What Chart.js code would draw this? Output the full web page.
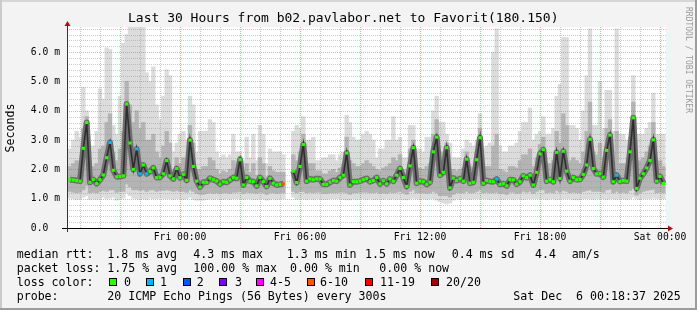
<!DOCTYPE html>
<html><head><meta charset="utf-8">
<script src="https://cdn.jsdelivr.net/npm/chart.js@4"></script>
<style>
html,body{margin:0;padding:0;background:#f3f3f3;}
#wrap{position:relative;width:697px;height:310px;background:#f3f3f3;overflow:hidden;font-family:"DejaVu Sans Mono",monospace;color:#000;}
#wrap canvas{position:absolute;left:0;top:0;}
.t{position:absolute;white-space:pre;font-size:11.6px;line-height:14px;}
.sq{position:absolute;width:6px;height:6px;border:1px solid #000;}
.edge{position:absolute;}
</style></head>
<body>
<div id="wrap">
  <canvas id="c" width="697" height="310"></canvas>
  <div class="edge" style="left:0;top:0;width:697px;height:2px;background:#d6d6d6"></div>
  <div class="edge" style="left:0;top:0;width:2px;height:310px;background:#cbcbcb"></div>
  <div class="edge" style="right:0;top:0;width:2px;height:310px;background:#9c9c9c"></div>
  <div class="edge" style="left:0;bottom:0;width:697px;height:2px;background:#9c9c9c"></div>
  <div class="t" style="left:128px;top:10px;font-size:13px;line-height:16px;">Last 30 Hours from b02.pavlabor.net to Favorit(180.150)</div>
  <div class="t" style="left:10px;top:128px;transform:translate(-50%,-50%) rotate(-90deg);">Seconds</div>
  <div class="t" style="left:688px;top:60px;transform:translate(-50%,-50%) rotate(90deg);font-size:8px;line-height:9px;color:#9a9a9a;">RRDTOOL / TOBI OETIKER</div>
  <div id="legend"></div>
</div>
<script>
// time axis: hours relative to Fri 00:00, one sample every 10 minutes
const startHour = -5.5;
const stepHour = 1/6;
const viewMin = -5.65, viewMax = 24.3;
const yMax = 6.86;

// median round-trip time (ms)
const median = [
1.65,1.64,1.62,1.60,2.72,3.60,1.56,1.65,1.52,1.65,
1.81,2.40,2.92,1.97,1.75,1.76,1.78,4.23,2.90,2.00,
2.70,1.85,2.15,1.85,1.93,2.05,1.72,1.73,1.85,2.30,
1.78,1.68,2.03,1.72,1.83,1.63,3.00,2.10,1.60,1.40,
1.56,1.56,1.70,1.65,1.60,1.50,1.58,1.56,1.64,1.72,
1.70,2.33,1.47,1.72,1.60,1.58,1.44,1.72,1.58,1.42,
1.69,1.53,1.47,1.49,1.51,null,null,1.94,1.55,2.10,
2.85,1.60,1.67,1.65,1.68,1.67,1.49,1.49,1.56,1.62,
1.60,1.72,1.80,2.56,1.47,1.58,1.58,1.60,1.65,1.69,
1.58,1.62,1.72,1.51,1.61,1.51,1.67,1.60,1.80,2.03,
1.72,1.42,2.12,2.74,1.53,1.60,1.58,1.49,1.56,2.60,
3.10,1.80,1.90,2.74,1.37,1.70,1.62,1.68,1.60,2.35,
1.53,1.56,2.33,3.08,1.53,1.62,1.59,1.58,1.67,1.49,
1.51,1.44,1.65,1.64,1.50,1.58,1.78,1.72,1.80,1.47,
1.90,2.53,2.67,1.60,1.65,1.58,2.58,1.69,2.62,1.94,
1.60,1.72,1.65,1.66,1.83,2.15,3.03,2.03,1.85,1.85,
1.74,2.65,3.17,1.58,1.80,1.59,1.62,1.60,2.60,3.76,
1.35,1.70,1.85,2.05,2.30,3.01,1.60,1.76,1.52];

// lost pings out of 20 per sample
const loss = [
0,0,0,0,0,0,0,0,0,0,
0,0,1,0,0,0,0,0,0,0,
1,1,0,1,0,0,0,0,0,0,
0,0,0,0,0,0,0,0,0,0,
0,0,0,0,0,0,0,0,0,0,
0,0,0,0,0,0,0,0,0,0,
0,0,0,0,8,null,null,0,0,0,
0,0,0,0,0,0,0,0,0,0,
0,0,0,0,0,0,0,0,0,0,
0,0,0,0,0,0,0,0,0,0,
0,0,0,0,0,0,0,0,0,0,
0,0,0,0,0,0,0,0,0,0,
0,0,0,0,0,0,0,0,1,0,
0,0,0,0,0,0,0,0,0,0,
0,0,0,0,0,0,0,0,0,0,
0,0,0,0,0,0,0,0,0,0,
0,0,0,0,1,0,0,0,0,0,
0,0,0,0,0,0,0,0,0];

// smoke: fastest ping, lower / upper edge of the dense part, slowest ping (ms)
const smokeMin = [
1.02,1.00,0.98,1.00,1.05,1.10,0.98,1.00,0.98,1.00,
1.05,1.00,1.02,1.05,0.95,1.00,1.02,1.20,1.10,1.02,
1.00,0.98,1.00,0.98,1.02,1.00,1.00,1.02,1.00,1.00,
1.00,0.98,1.00,1.00,0.98,1.00,1.05,0.98,0.95,0.95,
0.95,0.98,1.00,0.98,1.00,0.98,0.98,1.00,0.98,1.00,
1.00,1.00,0.98,1.00,1.00,0.98,0.98,1.00,1.00,0.95,
0.98,1.00,0.98,1.00,1.00,null,null,1.05,0.98,1.00,
1.00,0.98,1.00,0.98,1.00,1.00,0.98,0.98,1.00,1.00,
1.00,1.00,0.98,0.96,0.96,1.00,0.98,1.00,1.00,0.98,
1.00,0.98,0.98,1.00,0.98,1.00,0.98,1.00,0.98,1.00,
0.98,0.96,1.00,1.02,1.00,0.98,1.00,0.98,1.00,1.00,
0.95,0.90,0.85,0.82,0.85,0.95,1.00,0.98,1.00,1.00,
0.98,1.00,1.00,1.00,1.00,1.00,0.98,1.00,0.98,1.00,
0.98,1.00,1.00,0.98,1.00,1.00,0.98,1.00,1.00,1.00,
1.00,1.00,1.00,0.98,1.00,1.00,0.98,1.00,1.00,1.00,
1.00,0.98,0.96,0.98,1.00,1.00,1.00,0.98,1.00,1.00,
1.00,0.98,1.00,1.00,0.98,1.00,1.00,0.98,1.00,1.05,
1.00,0.98,1.00,1.00,1.00,1.02,1.00,1.00,1.00];

const smokeLow = [
1.25,1.22,1.20,1.22,1.30,1.45,1.20,1.22,1.20,1.25,
1.28,1.25,1.30,1.30,1.22,1.25,1.25,1.50,1.40,1.30,
1.30,1.28,1.30,1.25,1.30,1.30,1.25,1.28,1.28,1.30,
1.28,1.25,1.28,1.25,1.25,1.22,1.30,1.25,1.18,1.15,
1.15,1.18,1.20,1.18,1.20,1.18,1.20,1.20,1.18,1.22,
1.22,1.25,1.18,1.22,1.20,1.20,1.18,1.22,1.20,1.15,
1.20,1.20,1.18,1.20,1.20,null,null,1.25,1.20,1.25,
1.25,1.20,1.22,1.20,1.22,1.22,1.18,1.18,1.20,1.20,
1.20,1.22,1.22,1.20,1.15,1.20,1.20,1.22,1.22,1.22,
1.20,1.20,1.22,1.18,1.20,1.18,1.22,1.20,1.22,1.25,
1.20,1.15,1.25,1.30,1.20,1.20,1.20,1.18,1.20,1.25,
1.20,1.10,1.10,1.10,1.05,1.15,1.20,1.20,1.20,1.25,
1.20,1.20,1.25,1.30,1.20,1.22,1.20,1.20,1.22,1.18,
1.18,1.15,1.22,1.22,1.18,1.20,1.25,1.22,1.25,1.18,
1.25,1.30,1.30,1.20,1.22,1.20,1.28,1.22,1.28,1.25,
1.20,1.22,1.20,1.20,1.25,1.28,1.30,1.25,1.25,1.25,
1.22,1.30,1.32,1.20,1.25,1.20,1.22,1.20,1.28,1.35,
1.12,1.20,1.25,1.28,1.30,1.32,1.20,1.22,1.20];

const smokeHigh = [
2.1,2.2,2.3,2.2,3.4,3.8,2.0,2.1,2.2,2.7,
2.8,3.6,3.9,2.6,2.3,2.7,3.3,5.0,4.2,3.6,
4.0,3.4,3.6,3.0,3.0,3.2,2.6,2.4,2.8,3.3,
2.9,2.0,2.4,2.2,2.4,2.1,3.5,2.9,2.0,2.0,
2.1,2.1,2.4,2.3,2.0,1.85,1.95,1.9,2.0,2.3,
2.05,2.45,1.8,2.2,1.9,2.2,1.8,2.4,2.2,1.75,
2.1,1.95,1.9,1.9,1.9,null,null,2.5,2.3,2.6,
3.2,2.1,2.2,2.2,1.95,1.95,1.85,1.85,1.95,2.0,
1.9,2.05,2.15,3.1,2.3,2.2,2.1,2.1,2.2,2.3,
2.2,2.1,2.0,1.95,2.05,2.1,2.2,2.4,2.3,2.5,
2.0,1.8,2.7,3.0,2.0,2.05,2.0,2.1,2.2,3.2,
3.7,2.5,2.6,2.9,2.0,2.0,1.95,2.0,2.05,2.6,
2.1,2.05,2.6,3.4,2.0,2.1,2.1,2.8,3.2,2.0,
1.95,1.9,2.1,2.1,2.05,2.3,2.5,2.5,2.7,2.1,
2.4,2.85,3.1,2.2,2.2,2.3,3.3,2.9,3.9,3.5,
2.3,2.4,2.3,2.2,2.6,3.3,4.3,2.6,2.5,2.9,
2.4,3.4,3.7,2.2,3.3,2.2,2.2,2.1,2.8,4.3,
2.0,2.3,2.4,2.6,2.8,3.6,2.2,2.3,2.1];

const smokeMax = [
2.7,3.0,3.3,3.1,4.8,4.0,2.6,2.8,3.3,4.75,
4.4,6.15,6.1,3.5,3.2,4.5,6.3,6.6,6.85,6.85,
6.85,6.85,6.85,5.3,5.0,5.5,4.2,3.7,4.5,5.4,
5.2,2.6,2.9,3.2,3.3,3.0,4.5,4.2,2.6,3.3,
3.3,3.3,3.7,3.6,2.6,2.4,2.5,2.4,2.5,3.2,
2.6,2.6,2.3,3.1,2.4,3.2,2.3,3.5,3.2,2.2,
2.7,2.6,2.6,2.6,2.5,null,null,3.3,3.5,3.4,
3.8,3.0,3.0,3.1,2.3,2.3,2.4,2.4,2.5,2.5,
2.3,2.5,2.6,3.85,3.6,3.1,3.0,3.0,3.2,3.3,
3.2,3.0,2.4,2.7,2.7,3.0,3.0,3.8,3.0,3.1,
2.4,2.4,3.5,3.5,2.7,2.7,2.6,3.1,3.1,4.0,
4.5,3.6,3.6,3.2,2.9,2.4,2.4,2.4,2.7,3.0,
2.9,2.8,3.0,3.9,2.7,2.8,2.9,6.0,6.8,2.8,
2.6,2.6,2.8,2.8,2.9,3.3,3.6,3.6,4.1,3.0,
3.2,3.3,3.8,3.2,3.2,3.4,4.5,4.9,6.5,6.5,
3.5,3.5,3.4,3.0,4.0,5.2,6.8,3.5,3.5,5.0,
3.4,4.7,4.7,3.3,6.8,3.2,3.2,3.0,3.1,5.2,
3.2,3.2,3.2,3.4,3.6,4.6,3.2,3.2,3.2];

const tickHours = [0, 6, 12, 18, 24];
const tickLabels = ['Fri 00:00', 'Fri 06:00', 'Fri 12:00', 'Fri 18:00', 'Sat 00:00'];
const yLabelValues = [0, 1, 2, 3, 4, 5, 6];
const yLabels = ['0.0  ', '1.0 m', '2.0 m', '3.0 m', '4.0 m', '5.0 m', '6.0 m'];

const lossBins = ['0', '1', '2', '3', '4-5', '6-10', '11-19', '20/20'];
const lossBinMax = [0, 1, 2, 3, 5, 10, 19, 20];
const lossColors = ['#26ff00', '#00b8ff', '#0059ff', '#7e00ff', '#ff00ff', '#ff5500', '#ff0000', '#a10000'];

function lossColor(n) {
  for (let k = 0; k < lossBinMax.length; k++) if (n <= lossBinMax[k]) return lossColors[k];
  return lossColors[lossColors.length - 1];
}
const xs = median.map((_, i) => startHour + i * stepHour);
const pts = arr => arr.map((v, i) => ({x: xs[i], y: v}));
const band = (lo, hi) => lo.map((v, i) => ({x: xs[i], y: (v === null || hi[i] === null) ? null : [v, hi[i]]}));

// legend (html text)
const legendRows = [
  {y: 254, items: [['median rtt:', 16.7], ['1.8 ms avg', 107.3], ['4.3 ms max', 193.3], ['1.3 ms min', 286.7], ['1.5 ms now', 365], ['0.4 ms sd', 451.7], ['4.4', 535], ['am/s', 571.7]]},
  {y: 268, items: [['packet loss:', 16.7], ['1.75 % avg', 107.3], ['100.00 % max', 193.3], ['0.00 % min', 290], ['0.00 % now', 379.3]]},
  {y: 282, items: [['loss color:', 16.7]]},
  {y: 296, items: [['probe:', 16.7], ['20 ICMP Echo Pings (56 Bytes) every 300s', 107.3], ['Sat Dec  6 00:18:37 2025', 513.3]]}
];
const lossSwatchX = [108.7, 146, 182.7, 219.3, 256, 306.7, 365, 430.7];
const lossLabelX = [124, 160, 196.7, 235, 270, 320, 380, 446];
(function () {
  const lg = document.getElementById('legend');
  let html = '';
  legendRows.forEach(r => r.items.forEach(([txt, x]) => {
    html += `<div class="t" style="left:${x}px;top:${r.y - 7}px">${txt}</div>`;
  }));
  lossBins.forEach((b, k) => {
    html += `<div class="sq" style="left:${lossSwatchX[k]}px;top:278px;background:${lossColors[k]}"></div>`;
    html += `<div class="t" style="left:${lossLabelX[k]}px;top:275px">${b}</div>`;
  });
  lg.innerHTML = html;
})();

function hLine(ctx, x1, x2, y) { ctx.beginPath(); ctx.moveTo(x1, y); ctx.lineTo(x2, y); ctx.stroke(); }
function vLine(ctx, x, y1, y2) { ctx.beginPath(); ctx.moveTo(x, y1); ctx.lineTo(x, y2); ctx.stroke(); }

const rrdPlugin = {
  id: 'rrd',
  beforeDraw(chart) {
    const {ctx, chartArea: a} = chart;
    ctx.save(); ctx.fillStyle = '#ffffff';
    ctx.fillRect(a.left, a.top, a.right - a.left, a.bottom - a.top);
    ctx.restore();
  },
  afterDatasetDraw(chart, args) {
    if (args.index !== 3) return;
    const {ctx, chartArea: a, scales: {x, y}} = chart;
    ctx.save(); ctx.lineWidth = 1; ctx.setLineDash([1, 1]);
    y.ticks.forEach(t => {
      if (t.value <= 0) return;
      const major = Math.abs(t.value - Math.round(t.value)) < 1e-6;
      ctx.strokeStyle = major ? 'rgba(255,40,40,0.42)' : 'rgba(150,150,150,0.5)';
      hLine(ctx, a.left, a.right, Math.round(y.getPixelForValue(t.value)) + 0.5);
    });
    x.ticks.forEach(t => {
      const major = ((t.value % 3) + 3) % 3 === 0;
      ctx.strokeStyle = major ? 'rgba(255,40,40,0.42)' : 'rgba(150,150,150,0.5)';
      vLine(ctx, Math.round(x.getPixelForValue(t.value)) + 0.5, a.top, a.bottom);
    });
    ctx.restore();
  },
  afterDraw(chart) {
    const {ctx, chartArea: a} = chart;
    ctx.save();
    ctx.strokeStyle = '#000'; ctx.lineWidth = 1;
    hLine(ctx, a.left - 5, a.right + 2, a.bottom + 0.5);
    ctx.strokeStyle = '#333';
    vLine(ctx, a.left + 0.5, a.bottom + 4, a.top - 1);
    ctx.fillStyle = '#a81414';
    ctx.beginPath(); ctx.moveTo(a.right + 2, a.bottom - 2.5); ctx.lineTo(a.right + 2, a.bottom + 3.5); ctx.lineTo(a.right + 7, a.bottom + 0.5); ctx.closePath(); ctx.fill();
    ctx.beginPath(); ctx.moveTo(a.left - 2.5, a.top - 1); ctx.lineTo(a.left + 3.5, a.top - 1); ctx.lineTo(a.left + 0.5, a.top - 6); ctx.closePath(); ctx.fill();
    ctx.restore();
  }
};

new Chart(document.getElementById('c'), {
  type: 'bar',
  data: {
    datasets: [
      {type: 'line', label: 'median', data: pts(median), showLine: false,
       pointStyle: 'rect', pointRadius: 2.2, pointBorderWidth: 0, pointHoverRadius: 0,
       pointBackgroundColor: c => lossColor(loss[c.dataIndex] || 0)},
      {type: 'line', label: 'core', data: pts(median), borderColor: '#2e2e2e', borderWidth: 1.6,
       pointRadius: 0, spanGaps: false, borderCapStyle: 'butt', borderJoinStyle: 'miter', tension: 0},
      {type: 'line', label: 'core2', data: pts(median), borderColor: '#6e6e6e', borderWidth: 6,
       pointRadius: 0, spanGaps: false, borderCapStyle: 'butt', borderJoinStyle: 'round', tension: 0},
      {label: 'mid', data: band(smokeLow, smokeHigh), backgroundColor: '#b4b4b4', borderWidth: 0, grouped: false, barThickness: 3.7},
      {label: 'outer', data: band(smokeMin, smokeMax), backgroundColor: '#dcdcdc', borderWidth: 0, grouped: false, barThickness: 3.7}
    ]
  },
  options: {
    responsive: false, animation: false, devicePixelRatio: 1,
    layout: {padding: {left: 0, right: 31, top: 27, bottom: 0}},
    plugins: {legend: {display: false}, tooltip: {enabled: false}},
    events: [],
    scales: {
      x: {
        type: 'linear', min: viewMin, max: viewMax, offset: false,
        grid: {display: false, drawTicks: false}, border: {display: false},
        afterBuildTicks: s => { const t = []; for (let h = Math.ceil(viewMin); h <= Math.floor(viewMax); h++) t.push({value: h}); s.ticks = t; },
        afterFit: s => { s.height = 82; s.paddingLeft = 0; s.paddingRight = 0; },
        ticks: {autoSkip: false, maxRotation: 0, padding: 4, color: '#000',
          font: {family: 'DejaVu Sans Mono', size: 9.7},
          callback: v => { const k = tickHours.indexOf(v); return k >= 0 ? tickLabels[k] : ''; }}
      },
      y: {
        type: 'linear', min: 0, max: yMax,
        grid: {display: false, drawTicks: false}, border: {display: false},
        afterBuildTicks: s => { const t = []; for (let k = 0; k * 0.2 <= yMax; k++) t.push({value: Math.round(k * 2) / 10}); s.ticks = t; },
        afterFit: s => { s.width = 67; s.paddingTop = 0; s.paddingBottom = 0; },
        ticks: {autoSkip: false, padding: 7, color: '#000',
          font: {family: 'DejaVu Sans Mono', size: 9.7},
          callback: v => { const k = yLabelValues.indexOf(v); return k >= 0 ? yLabels[k] : ''; }}
      }
    }
  },
  plugins: [rrdPlugin]
});
</script>
</body></html>
